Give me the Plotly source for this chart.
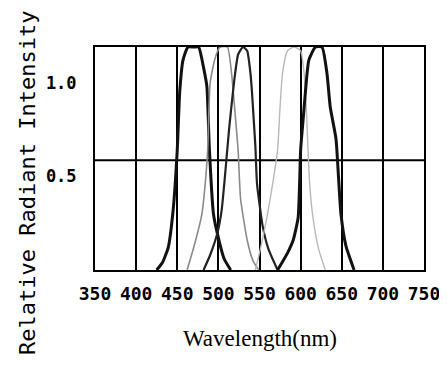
import plotly.graph_objects as go

# ---- data ----
x_ticks = [350, 400, 450, 500, 550, 600, 650, 700, 750]
x_tick_labels = ["350", "400", "450", "500", "550", "600", "650", "700", "750"]
y_ticks = [0.5, 1.0]
y_tick_labels = ["0.5", "1.0"]
mid_grid_level = 0.585

wl_blue = [425, 432, 439, 445, 450, 453, 457, 463, 470, 476, 482, 486, 489, 494, 499, 507, 515]
val_blue = [0, 0.04, 0.12, 0.32, 0.64, 0.95, 1.12, 1.19, 1.19, 1.19, 1.08, 0.98, 0.65, 0.30, 0.19, 0.06, 0]

wl_cyan = [462, 470, 480, 484, 487, 490, 496, 502, 511, 516, 521, 524, 527, 535, 542, 549]
val_cyan = [0, 0.12, 0.30, 0.46, 0.64, 1.0, 1.13, 1.19, 1.19, 1.05, 0.8, 0.64, 0.38, 0.16, 0.05, 0]

wl_green = [482, 490, 499, 504, 508, 513, 519, 524, 530, 535, 539, 541, 543, 545, 547, 554, 561, 572]
val_green = [0, 0.08, 0.2, 0.32, 0.5, 0.75, 1.0, 1.15, 1.19, 1.17, 1.05, 0.94, 0.8, 0.66, 0.46, 0.23, 0.11, 0]

wl_amber = [545, 551, 559, 566, 572, 575, 578, 584, 592, 600, 604, 607, 609, 611, 615, 622, 630]
val_amber = [0, 0.11, 0.28, 0.46, 0.64, 0.87, 1.05, 1.17, 1.19, 1.17, 1.06, 0.85, 0.64, 0.46, 0.28, 0.11, 0]

wl_red = [572, 584, 591, 597, 600, 603, 606, 610, 618, 626, 632, 636, 643, 646, 649, 655, 665]
val_red = [0, 0.09, 0.16, 0.28, 0.64, 0.8, 0.96, 1.12, 1.19, 1.19, 1.05, 0.87, 0.7, 0.5, 0.3, 0.13, 0]

series = [
    (wl_blue, val_blue, "#111111", 3),
    (wl_cyan, val_cyan, "#8a8a8a", 1.6),
    (wl_green, val_green, "#222222", 2.2),
    (wl_amber, val_amber, "#b8b8b8", 1.4),
    (wl_red, val_red, "#111111", 3),
]

fig = go.Figure()
for wl, val, col, w in series:
    fig.add_trace(go.Scatter(x=wl, y=val, mode="lines",
                             line=dict(color=col, width=w, shape="spline", smoothing=0.5),
                             showlegend=False, hoverinfo="skip"))

tick_font = dict(family="DejaVu Sans Mono", size=18, color="black", weight="bold")
ytick_font = dict(family="DejaVu Sans Mono", size=17, color="black", weight="bold")

fig.update_layout(
    width=439, height=358,
    margin=dict(l=87, r=23, t=39, b=96),
    paper_bgcolor="white", plot_bgcolor="white",
    xaxis=dict(range=[350, 750], tickvals=x_ticks, ticktext=x_tick_labels,
               showgrid=True, gridcolor="black", gridwidth=2, automargin=False,
               showline=True, linecolor="black", linewidth=2, mirror=True,
               ticks="", zeroline=False, tickfont=tick_font, ticklabelstandoff=6),
    yaxis=dict(range=[0, 1.19], tickvals=y_ticks, ticktext=y_tick_labels,
               showgrid=False, automargin=False,
               showline=True, linecolor="black", linewidth=2, mirror=True,
               ticks="", zeroline=False, tickfont=ytick_font, ticklabelstandoff=13),
    shapes=[dict(type="line", xref="paper", yref="y", x0=0, x1=1,
                 y0=mid_grid_level, y1=mid_grid_level,
                 line=dict(color="black", width=2), layer="below")],
    annotations=[
        dict(text="Relative Radiant Intensity", textangle=-90, xref="paper", yref="paper",
             x=-0.207, y=0.39, xanchor="center", yanchor="middle", showarrow=False,
             font=dict(family="DejaVu Sans Mono", size=22, color="black")),
        dict(text="Wavelength(nm)", xref="paper", yref="paper",
             x=0.5, y=-0.305, xanchor="center", yanchor="middle", showarrow=False,
             font=dict(family="Liberation Serif", size=23, color="black")),
    ],
)

fig.write_html("out.html")
